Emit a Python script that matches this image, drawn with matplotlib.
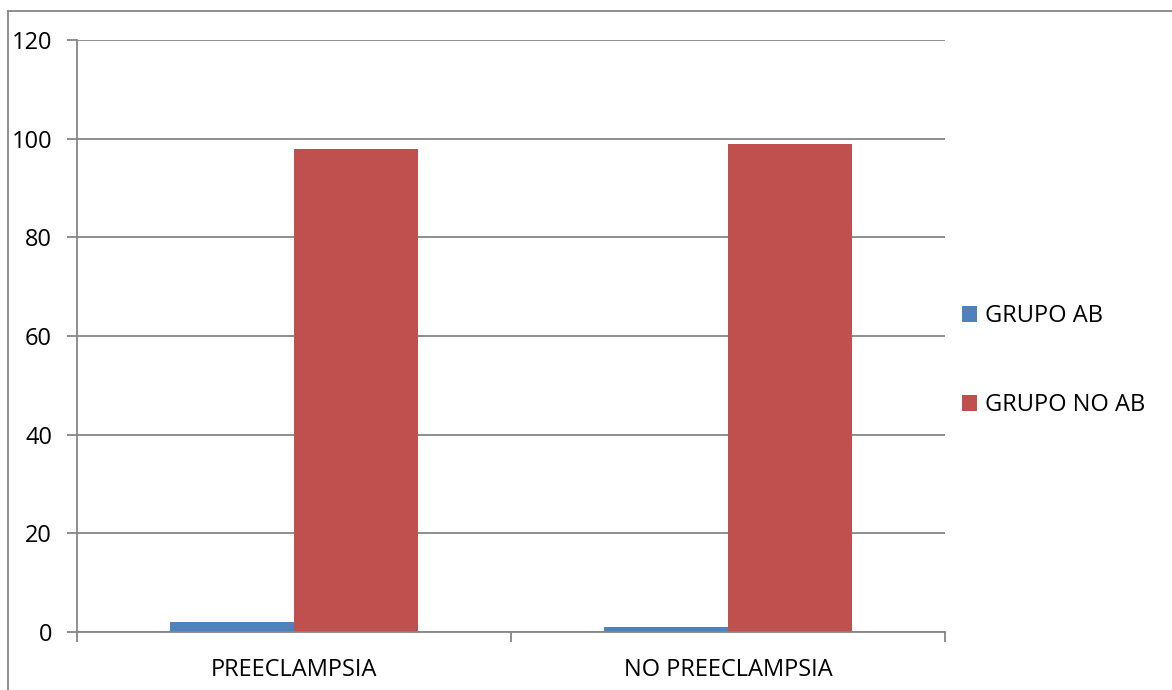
import matplotlib.pyplot as plt
import numpy
from matplotlib.lines import Line2D

categories = ["PREECLAMPSIA", "NO PREECLAMPSIA"]
series_names = ["GRUPO AB", "GRUPO NO AB"]
grupo_ab = [2, 1]
grupo_no_ab = [98, 99]
y_ticks = [0, 20, 40, 60, 80, 100, 120]

colors = ["#4F81BD", "#C0504D"]
grid_color = "#868686"

plt.rcParams["font.family"] = ["Open Sans", "DejaVu Sans"]

fig = plt.figure(figsize=(11.72, 6.9), dpi=100)
ax = fig.add_axes([0.0657, 0.0841, 0.7406, 0.942 - 0.0841])

x = numpy.arange(len(categories))
width = 0.2857
ax.bar(x - width / 2, grupo_ab, width, color=colors[0], label=series_names[0])
ax.bar(x + width / 2, grupo_no_ab, width, color=colors[1], label=series_names[1])

ax.set_xlim(-0.5, len(categories) - 0.5)
ax.set_ylim(0, 120)
ax.set_yticks(y_ticks)
ax.set_yticklabels([str(v) for v in y_ticks], fontsize=17)
ax.set_xticks(x)
ax.set_xticklabels(categories, fontsize=17)
ax.tick_params(axis="x", length=0, pad=19)
ax.tick_params(axis="y", length=7, width=1.3, color=grid_color, pad=11)

# category separators on the x axis
ax.set_xticks([-0.5, 0.5, 1.5], minor=True)
ax.tick_params(axis="x", which="minor", length=7, width=1.3, color=grid_color)

ax.yaxis.grid(True, color=grid_color, linewidth=1.3)
ax.set_axisbelow(True)
for side in ["top", "right"]:
    ax.spines[side].set_visible(False)
for side in ["left", "bottom"]:
    ax.spines[side].set_color(grid_color)
    ax.spines[side].set_linewidth(1.3)

ax.legend(loc="center left", bbox_to_anchor=(1.0, 0.458), frameon=False,
          fontsize=17, handlelength=0.65, handleheight=0.65, handletextpad=0.35,
          labelspacing=2.75, borderaxespad=0.3)

# outer chart border (left and top visible)
fig.add_artist(Line2D([0.0068, 0.0068], [0, 0.984], color=grid_color, linewidth=1.3))
fig.add_artist(Line2D([0.0068, 1], [0.984, 0.984], color=grid_color, linewidth=1.3))

fig.savefig("out.png", dpi=100)
